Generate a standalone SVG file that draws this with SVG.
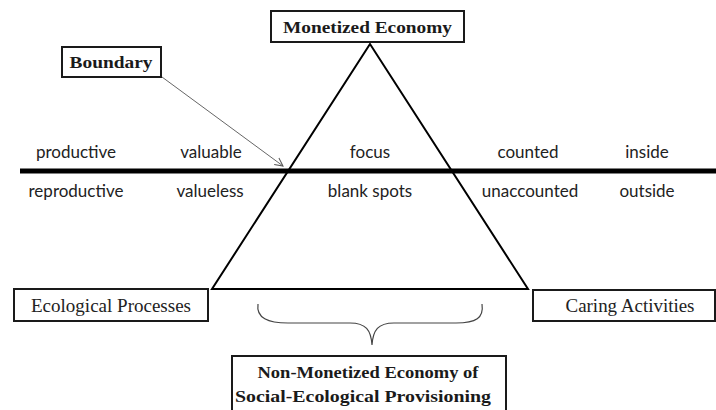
<svg xmlns="http://www.w3.org/2000/svg" width="716" height="410" viewBox="0 0 716 410">
<defs>
<style>
.box{fill:#fff;stroke:#1a1a1a;stroke-width:2}
.bt{font-family:"Liberation Serif",serif;font-weight:bold;font-size:17px;fill:#1a1a1a;text-anchor:middle}
.nt{font-family:"Liberation Serif",serif;font-size:18px;fill:#222;text-anchor:middle}
.w{font-family:"Lato","Liberation Sans",sans-serif;font-size:17px;fill:#222;text-anchor:middle}
</style>
<marker id="ah" markerWidth="10" markerHeight="10" refX="9" refY="5" orient="auto" markerUnits="userSpaceOnUse">
<path d="M1,1 L9,5 L1,9" fill="none" stroke="#555" stroke-width="1"/>
</marker>
</defs>
<rect width="716" height="410" fill="#fff"/>
<g id="connectors">
<line x1="20" y1="171" x2="716" y2="171" stroke="#000" stroke-width="5"/>
<polygon points="370,44 212,289 528,289" fill="none" stroke="#000" stroke-width="2"/>
<line x1="162" y1="77" x2="283" y2="166" stroke="#666" stroke-width="1" marker-end="url(#ah)"/>
<path d="M258,304 C256,318 268,323 288,323 L350,323 C366,323 371,330 372,345 C373,330 378,323 394,323 L456,323 C476,323 484,318 482,304" fill="none" stroke="#444" stroke-width="1.2"/>
</g>
<g id="words">
<text class="w" x="76" y="158">productive</text>
<text class="w" x="211" y="158">valuable</text>
<text class="w" x="370" y="158">focus</text>
<text class="w" x="528" y="158">counted</text>
<text class="w" x="647" y="158">inside</text>
<text class="w" x="76" y="197">reproductive</text>
<text class="w" x="210" y="197">valueless</text>
<text class="w" x="370" y="197">blank spots</text>
<text class="w" x="530" y="197">unaccounted</text>
<text class="w" x="647" y="197">outside</text>
</g>
<g id="monetized">
<rect class="box" x="271" y="11" width="193" height="31"/>
<text class="bt" x="367.5" y="33" textLength="169" lengthAdjust="spacingAndGlyphs">Monetized Economy</text>
</g>
<g id="boundary">
<rect class="box" x="62" y="47" width="99" height="30"/>
<text class="bt" x="111" y="68" textLength="83" lengthAdjust="spacingAndGlyphs">Boundary</text>
</g>
<g id="ecological">
<rect class="box" x="14" y="289" width="194" height="32"/>
<text class="nt" x="111" y="312" textLength="160" lengthAdjust="spacingAndGlyphs">Ecological Processes</text>
</g>
<g id="caring">
<rect class="box" x="533" y="290" width="182" height="31"/>
<text class="nt" x="630" y="312" textLength="129" lengthAdjust="spacingAndGlyphs">Caring Activities</text>
</g>
<g id="nonmonetized">
<rect class="box" x="232" y="356" width="274" height="58"/>
<text class="bt" x="368" y="378" textLength="221" lengthAdjust="spacingAndGlyphs">Non-Monetized Economy of</text>
<text class="bt" x="363" y="402" textLength="256" lengthAdjust="spacingAndGlyphs">Social-Ecological Provisioning</text>
</g>
</svg>
